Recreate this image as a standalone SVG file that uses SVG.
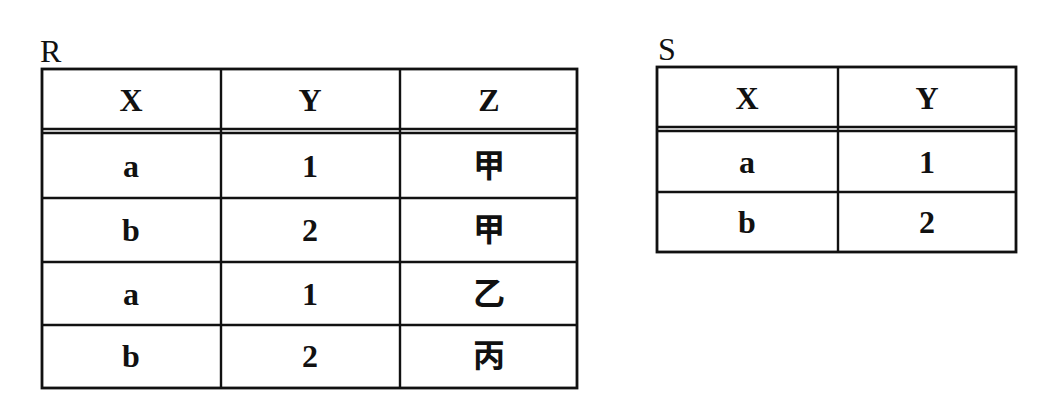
<svg xmlns="http://www.w3.org/2000/svg" width="1052" height="420" viewBox="0 0 1052 420">
<style>
.b{fill:none;stroke:#111;stroke-width:2.8}
.l{stroke:#111;stroke-width:2.4}
.t{font-family:"Liberation Serif","Noto Sans CJK SC",serif;font-size:32px;font-weight:bold;fill:#111;text-anchor:middle;dominant-baseline:central}
.n{font-family:"Liberation Serif",serif;font-size:32px;fill:#111}
</style>
<rect width="1052" height="420" fill="#fff"/>
<g id="R">
<text class="n" x="40" y="62">R</text>
<rect class="b" x="42" y="69" width="535" height="319"/>
<line class="l" x1="42" y1="129" x2="577" y2="129"/>
<line class="l" x1="42" y1="133" x2="577" y2="133"/>
<line class="l" x1="42" y1="198" x2="577" y2="198"/>
<line class="l" x1="42" y1="262" x2="577" y2="262"/>
<line class="l" x1="42" y1="325" x2="577" y2="325"/>
<line class="l" x1="221" y1="69" x2="221" y2="388"/>
<line class="l" x1="400" y1="69" x2="400" y2="388"/>
<text class="t" x="131" y="100">X</text><text class="t" x="310" y="100">Y</text><text class="t" x="489" y="100">Z</text>
<text class="t" x="131" y="166">a</text><text class="t" x="310" y="166">1</text><text class="t" x="489" y="166">甲</text>
<text class="t" x="131" y="230">b</text><text class="t" x="310" y="230">2</text><text class="t" x="489" y="230">甲</text>
<text class="t" x="131" y="294">a</text><text class="t" x="310" y="294">1</text><text class="t" x="489" y="294">乙</text>
<text class="t" x="131" y="356">b</text><text class="t" x="310" y="356">2</text><text class="t" x="489" y="356">丙</text>
</g>
<g id="S">
<text class="n" x="658" y="60">S</text>
<rect class="b" x="657" y="67" width="359" height="185"/>
<line class="l" x1="657" y1="127" x2="1016" y2="127"/>
<line class="l" x1="657" y1="131" x2="1016" y2="131"/>
<line class="l" x1="657" y1="192" x2="1016" y2="192"/>
<line class="l" x1="838" y1="67" x2="838" y2="252"/>
<text class="t" x="747" y="98">X</text><text class="t" x="927" y="98">Y</text>
<text class="t" x="747" y="162">a</text><text class="t" x="927" y="162">1</text>
<text class="t" x="747" y="222">b</text><text class="t" x="927" y="222">2</text>
</g>
<g id="connectors"/>
</svg>
